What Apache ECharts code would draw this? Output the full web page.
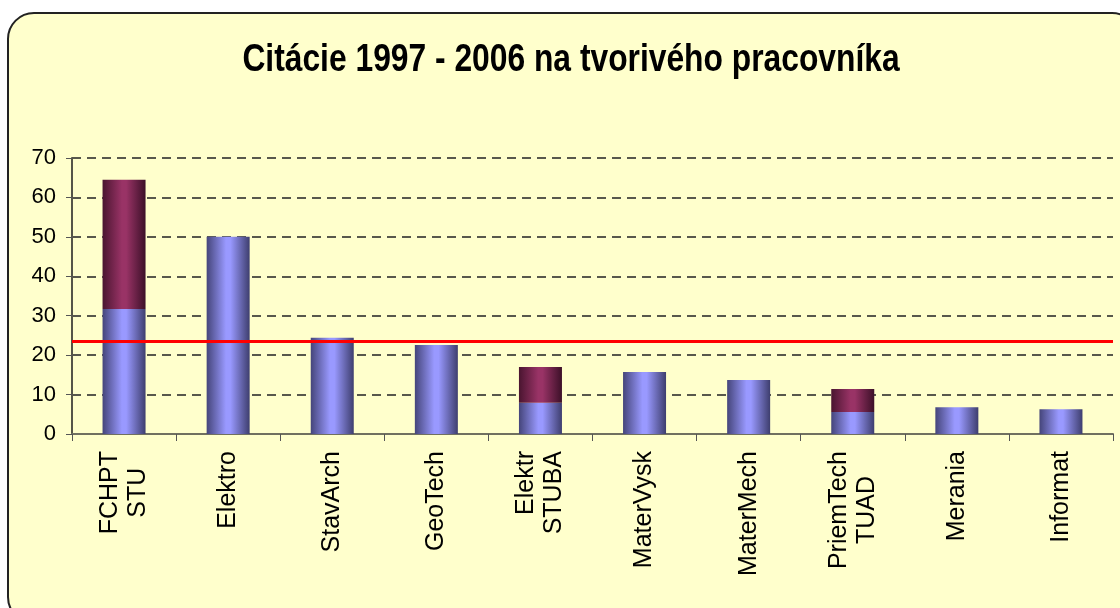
<!DOCTYPE html>
<html>
<head>
<meta charset="utf-8">
<script src="https://cdn.jsdelivr.net/npm/echarts@6/dist/echarts.min.js"></script>
<style>
  html, body { margin: 0; padding: 0; background: #fff; }
  #chart { width: 1120px; height: 608px; }
</style>
</head>
<body>
<div id="chart"></div>
<script>
// kategórie (fakulty / ústavy)
var categories = ['FCHPT\nSTU', 'Elektro', 'StavArch', 'GeoTech', 'Elektr\nSTUBA', 'MaterVysk', 'MaterMech', 'PriemTech\nTUAD', 'Merania', 'Informat'];
// spodná (modrá) časť stĺpca
var valuesBase = [31.7, 50.0, 24.4, 22.6, 7.9, 15.7, 13.7, 5.6, 6.8, 6.3];
// horná (fialová) časť stĺpca
var valuesTop = [32.8, null, null, null, 9.1, null, null, 5.8, null, null];
// priemer - červená čiara
var averageValue = 23.4;
var yTicks = [0, 10, 20, 30, 40, 50, 60, 70];
var titleText = 'Citácie 1997 - 2006 na tvorivého pracovníka';

var chart = echarts.init(document.getElementById('chart'));

function grad(edge, mid, edge2) {
    return new echarts.graphic.LinearGradient(0, 0, 1, 0, [
        { offset: 0, color: edge },
        { offset: 0.45, color: mid },
        { offset: 0.55, color: mid },
        { offset: 1, color: edge2 }
    ]);
}

chart.setOption({
    backgroundColor: '#ffffff',
    animation: false,
    graphic: [{
        type: 'rect',
        z: -10,
        shape: { x: 8, y: 13, width: 1130, height: 610, r: 26 },
        style: { fill: '#ffffcc', stroke: '#222222', lineWidth: 2 }
    }, {
        // nadpis - zúžené písmo (Arial Narrow nie je k dispozícii)
        type: 'text',
        x: 571,
        y: 60,
        scaleX: 0.815,
        style: {
            text: titleText,
            fontFamily: '"Liberation Sans", Arial, sans-serif',
            fontSize: 39,
            fontWeight: 'bold',
            fill: '#000',
            align: 'center',
            verticalAlign: 'middle'
        }
    }],
    grid: { left: 72, right: 7, top: 158, bottom: 174, containLabel: false },
    xAxis: {
        type: 'category',
        data: categories,
        axisLine: { lineStyle: { color: '#707060', width: 2 } },
        axisTick: { show: true, length: 7, lineStyle: { color: '#555' } },
        axisLabel: {
            rotate: 90,
            margin: 17,
            interval: 0,
            formatter: function (v) {
                var lines = v.split('\n');
                return lines.map(function (l, i) {
                    return (i === 0 ? '{a|' : '{b|') + l + '}';
                }).join('\n');
            },
            rich: {
                a: { fontFamily: '"Liberation Sans", Arial, sans-serif', fontSize: 25, color: '#000', lineHeight: 28 },
                b: { fontFamily: '"Liberation Sans", Arial, sans-serif', fontSize: 25, color: '#000', lineHeight: 28, align: 'center' }
            }
        }
    },
    yAxis: {
        type: 'value',
        min: yTicks[0],
        max: yTicks[yTicks.length - 1],
        interval: 10,
        axisLine: { show: true, lineStyle: { color: '#555548', width: 2 } },
        axisTick: { show: true, length: 6, lineStyle: { color: '#555' } },
        axisLabel: {
            margin: 16,
            fontFamily: '"Liberation Sans", Arial, sans-serif',
            fontSize: 22,
            color: '#000'
        },
        splitLine: {
            show: true,
            lineStyle: { color: '#222', type: [9, 6], width: 1.5 }
        }
    },
    series: [{
        name: 'base',
        type: 'bar',
        stack: 'total',
        barWidth: 43,
        data: valuesBase,
        itemStyle: { color: grad('#45457a', '#9999ff', '#3e3e6e') },
        markLine: {
            silent: true,
            symbol: ['none', 'none'],
            label: { show: false },
            lineStyle: { color: '#ff0000', width: 3, type: 'solid' },
            data: [{ yAxis: averageValue }]
        }
    }, {
        name: 'top',
        type: 'bar',
        stack: 'total',
        barWidth: 43,
        data: valuesTop,
        itemStyle: { color: grad('#4a1530', '#993366', '#3c1028') }
    }]
});
</script>
</body>
</html>
